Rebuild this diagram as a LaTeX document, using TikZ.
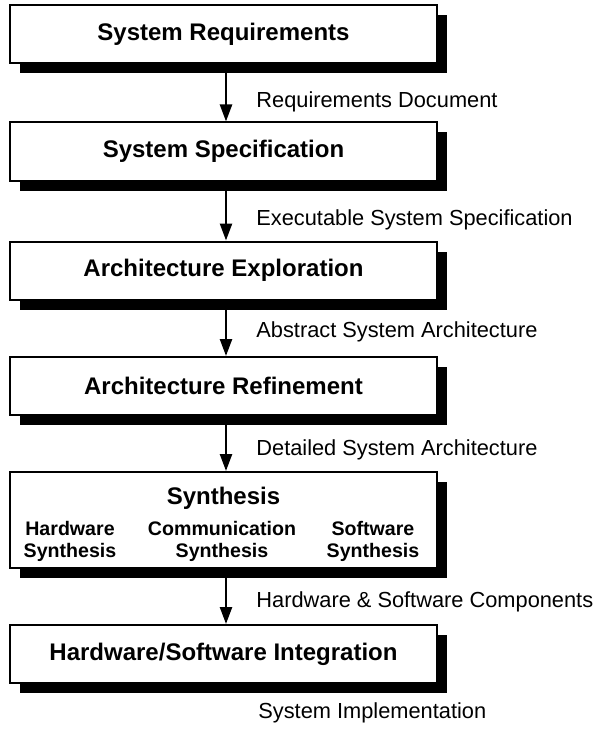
\documentclass[tikz,border=0pt]{standalone}
\usepackage{fontspec}
\setmainfont{Liberation Sans}
\usetikzlibrary{arrows.meta,shadows}
\begin{document}
\begin{tikzpicture}[x=0.5pt,y=-0.5pt,
  stagebox/.style={draw=black, line width=1pt, fill=white, minimum width=213.5pt, minimum height=29pt,
    inner sep=0pt, font=\fontsize{12}{14}\selectfont\bfseries,
    general shadow={fill=black, shadow xshift=5pt, shadow yshift=-5pt}},
  subtext/.style={font=\fontsize{9.8}{11}\selectfont\bfseries, align=center, inner sep=0pt},
  flowlabel/.style={font=\fontsize{10.9}{12}\selectfont, anchor=west, inner sep=0pt},
  flow/.style={line width=1.2pt, -{Triangle[width=6pt,length=8.5pt]}}]
\useasboundingbox (0,0) rectangle (600,733);
\node[stagebox] (b1) at (223.5,34) {System Requirements};
\node[stagebox] (b2) at (223.5,151.5) {System Specification};
\node[stagebox] (b3) at (223.5,270.5) {Architecture Exploration};
\node[stagebox] (b4) at (223.5,386) {Architecture Refinement};
\node[stagebox, minimum height=48pt] (b5) at (223.5,520) {};
\node[stagebox] (b6) at (223.5,654) {Hardware/Software Integration};
\node[font=\fontsize{12}{14}\selectfont\bfseries, inner sep=0pt] (syn) at (223.5,498) {Synthesis};
\node[subtext] (hw) at (70,541) {Hardware\\Synthesis};
\node[subtext] (cm) at (222,541) {Communication\\Synthesis};
\node[subtext] (sw) at (373,541) {Software\\Synthesis};
\coordinate (s1) at (226,73);
\coordinate (s2) at (226,191);
\coordinate (s3) at (226,309);
\coordinate (s4) at (226,424);
\coordinate (s5) at (226,578);
\draw[flow] (s1) -- (s1 |- b2.north);
\draw[flow] (s2) -- (s2 |- b3.north);
\draw[flow] (s3) -- (s3 |- b4.north);
\draw[flow] (s4) -- (s4 |- b5.north);
\draw[flow] (s5) -- (s5 |- b6.north);
\node[flowlabel] (l1) at (256,102) {Requirements Document};
\node[flowlabel] (l2) at (256,220) {Executable System Specification};
\node[flowlabel] (l3) at (256,332) {Abstract System Architecture};
\node[flowlabel] (l4) at (256,450) {Detailed System Architecture};
\node[flowlabel] (l5) at (256,602) {Hardware \& Software Components};
\node[flowlabel] (l6) at (258,713) {System Implementation};
\end{tikzpicture}
\end{document}
